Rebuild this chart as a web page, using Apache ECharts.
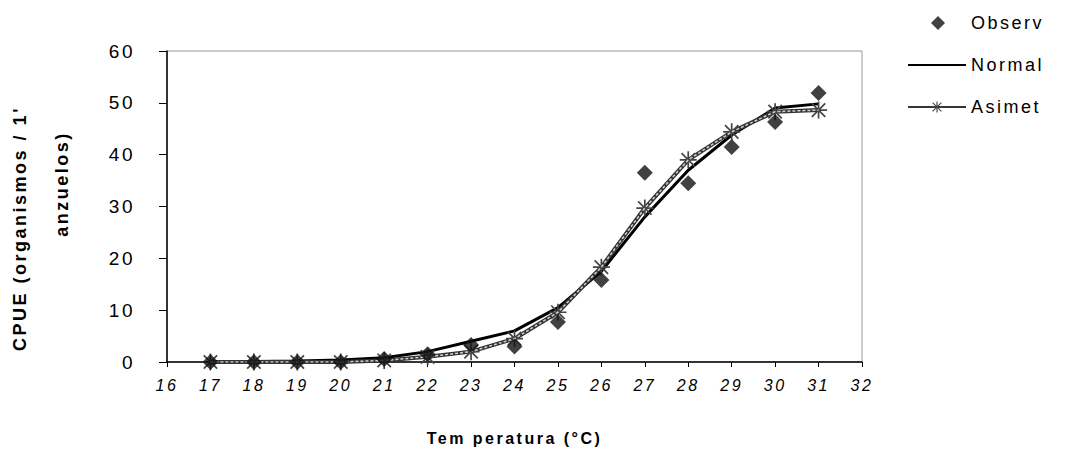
<!DOCTYPE html>
<html>
<head>
<meta charset="utf-8">
<script src="https://cdn.jsdelivr.net/npm/echarts@6/dist/echarts.min.js"></script>
<style>
  html, body { margin: 0; padding: 0; background: #fff; }
  #chart { width: 1067px; height: 459px; letter-spacing: 2.5px; }
</style>
</head>
<body>
<div id="chart"></div>
<script>
// Temperature (°C) of each sample
const temperatures = [17, 18, 19, 20, 21, 22, 23, 24, 25, 26, 27, 28, 29, 30, 31];
// Observed catch per unit effort
const observed = [0, 0, 0, 0, 0.6, 1.5, 3.3, 3, 7.7, 15.8, 36.5, 34.5, 41.5, 46.3, 51.9];
// Fitted curve, normal model
const normalFit = [0.1, 0.1, 0.2, 0.4, 0.8, 2, 4, 6, 10.5, 17.5, 28, 37, 43.8, 49, 49.8];
// Fitted curve, asymmetric model
const asymFit = [0, 0, 0, 0, 0.3, 1, 2, 4.5, 9.6, 18.3, 29.7, 39, 44.4, 48.3, 48.6];

const xTicks = { min: 16, max: 32, step: 1 };
const yTicks = { min: 0, max: 60, step: 10 };

const pairs = (ys) => temperatures.map((t, i) => [t, ys[i]]);

// eight-armed asterisk marker
const starPath = 'path://M0,9L20,9L20,11L0,11Z M9,0L11,0L11,20L9,20Z ' +
  'M1.4,2.8L2.8,1.4L18.6,17.2L17.2,18.6Z M17.2,1.4L18.6,2.8L2.8,18.6L1.4,17.2Z';
// legend icons, drawn in a 58x14 box
const legendDiamond = 'path://M0,7L0,7 M58,7L58,7 M23,7L30,0L37,7L30,14Z';
const legendLine = 'path://M0,6L58,6L58,8L0,8Z';

const font = 'Liberation Sans, Arial, sans-serif';

const chart = echarts.init(document.getElementById('chart'), null, { renderer: 'svg' });
chart.setOption({
  animation: false,
  backgroundColor: '#fff',
  textStyle: { fontFamily: font },
  grid: {
    left: 167, right: 205, top: 51, bottom: 97,
    outerBoundsMode: 'none',
    containLabel: false,
    show: true, borderColor: '#9a9a9a', borderWidth: 1
  },
  legend: {
    orient: 'vertical',
    left: 902, top: 9,
    itemWidth: 58, itemHeight: 14, itemGap: 24,
    textStyle: { fontFamily: font, fontSize: 18, color: '#000' },
    data: [
      { name: 'Observ', icon: legendDiamond },
      { name: 'Normal', icon: legendLine },
      { name: 'Asimet' }
    ]
  },
  graphic: [
    {
      // second line of the vertical axis title
      type: 'text',
      x: 62, y: 184, rotation: Math.PI / 2,
      style: {
        text: 'anzuelos)', fontFamily: font, fontSize: 18, fontWeight: 'bold',
        fill: '#000', align: 'center', verticalAlign: 'middle'
      }
    }
  ],
  xAxis: {
    type: 'value',
    min: xTicks.min, max: xTicks.max, interval: xTicks.step,
    name: 'Tem peratura (°C)',
    nameLocation: 'middle', nameGap: 68,
    nameTextStyle: { fontFamily: font, fontSize: 16, fontWeight: 'bold', color: '#000' },
    axisLine: { lineStyle: { color: '#000', width: 1.5 } },
    axisTick: { show: true, length: 5, inside: false, lineStyle: { color: '#000' } },
    axisLabel: { fontFamily: font, fontSize: 16, fontStyle: 'italic', color: '#000', margin: 15 },
    splitLine: { show: false }
  },
  yAxis: {
    type: 'value',
    min: yTicks.min, max: yTicks.max, interval: yTicks.step,
    name: "CPUE (organismos / 1'",
    nameLocation: 'middle', nameGap: 138, nameRotate: 90,
    nameTextStyle: {
      fontFamily: font, fontSize: 18, fontWeight: 'bold', color: '#000',
      padding: [0, 44, 0, 0]
    },
    axisLine: { show: true, lineStyle: { color: '#000', width: 1.5 } },
    axisTick: { show: true, length: 8, lineStyle: { color: '#000' } },
    axisLabel: { fontFamily: font, fontSize: 19, color: '#000', margin: 32 },
    splitLine: { show: false }
  },
  series: [
    {
      name: 'Normal',
      type: 'line',
      data: pairs(normalFit),
      symbol: 'none',
      color: '#000',
      lineStyle: { color: '#000', width: 3 },
      z: 3
    },
    {
      name: 'Asimet',
      type: 'line',
      data: pairs(asymFit),
      symbol: starPath,
      symbolSize: 17,
      color: '#444',
      itemStyle: { color: '#444' },
      lineStyle: { color: '#333', width: 4 },
      z: 4
    },
    {
      // light core along the asymmetric curve
      name: 'Asimet core',
      type: 'line',
      data: pairs(asymFit),
      symbol: 'none',
      lineStyle: { color: '#d0d0d0', width: 1.5, type: [3, 2] },
      silent: true,
      z: 5
    },
    {
      name: 'Observ',
      type: 'scatter',
      data: pairs(observed),
      symbol: 'diamond',
      symbolSize: 16,
      itemStyle: { color: '#111' },
      z: 6
    }
  ]
});
</script>
</body>
</html>
